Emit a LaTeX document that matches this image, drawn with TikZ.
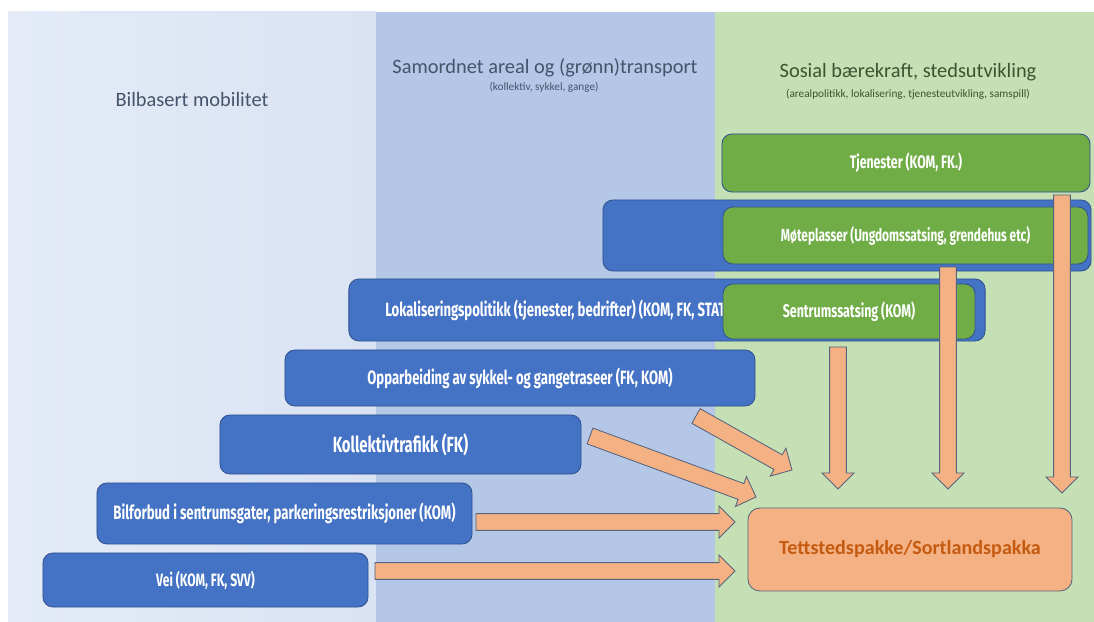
\documentclass[tikz,border=0pt]{standalone}
\usepackage{fontspec}
\setmainfont{Carlito}
\newfontfamily\boxfont[FakeStretch=0.68]{Fira Sans}
\usetikzlibrary{calc}
\definecolor{bandcar}{HTML}{DAE3F3}
\definecolor{bandcarleft}{HTML}{E4EBF7}
\definecolor{bandtransp}{HTML}{B4C7E7}
\definecolor{bandsosial}{HTML}{C5E0B4}
\definecolor{boxblue}{HTML}{4472C4}
\definecolor{boxedge}{HTML}{2F528F}
\definecolor{boxgreen}{HTML}{70AD47}
\definecolor{pakkefill}{HTML}{F4B183}
\definecolor{pakketext}{HTML}{C55A11}
\definecolor{arrowedge}{HTML}{56637D}
\definecolor{headgray}{HTML}{44546A}
\definecolor{headgreen}{HTML}{3B5532}
\tikzset{
    headtxt/.style={text=headgray, font=\fontsize{14.5}{17}\selectfont},
    subtxt/.style={text=headgray, font=\fontsize{8}{9}\selectfont},
    boxtext/.style={text=white, font=\boxfont\bfseries\fontsize{#1}{#1}\selectfont},
    boxtext/.default=13,
    bluebox/.style={draw=boxedge, line width=0.6pt, fill=boxblue,
        rounded corners=0.25cm, inner sep=0pt, outer sep=0pt},
    greenbox/.style={draw=boxedge, line width=0.6pt, fill=boxgreen,
        rounded corners=0.25cm, inner sep=0pt, outer sep=0pt},
    pakkebox/.style={draw=arrowedge, line width=0.6pt, fill=pakkefill,
        rounded corners=0.3cm, inner sep=0pt, outer sep=0pt,
        text=pakketext, font=\bfseries\fontsize{14.3}{16}\selectfont},
    blockarrow/.style={draw=arrowedge, line width=0.6pt, fill=pakkefill, line join=miter}
}
% orange block arrow from tail (#1) to tip (#2)
\newcommand{\blockarrow}[2]{%
    \coordinate (hb) at ($(#2)!0.4cm!(#1)$);
    \draw[blockarrow]
        ($(#1)!0.21cm!90:(#2)$) -- ($(hb)!0.21cm!90:(#2)$)
        -- ($(hb)!0.4cm!90:(#2)$) -- (#2)
        -- ($(hb)!0.4cm!-90:(#2)$) -- ($(hb)!0.21cm!-90:(#2)$)
        -- ($(#1)!0.21cm!-90:(#2)$) -- cycle;
}
\begin{document}
\begin{tikzpicture}[
        x=0.025cm, y=-0.025cm
    ]
    \useasboundingbox (0,0) rectangle (1094,622);
    \fill[white] (0,0) rectangle (1094,622);

    % the three bands
    \fill[left color=bandcarleft, right color=bandcar] (8,12) rectangle (376,622);
    \fill[bandtransp] (376,12) rectangle (715,622);
    \fill[bandsosial] (715,12) rectangle (1094,622);

    \node[headtxt] (bilhead) at (192,100) {Bilbasert mobilitet};
    \node[headtxt] (samhead) at (545,68) {Samordnet areal og (grønn)transport};
    \node[subtxt] (samsub) at (544,87) {(kollektiv, sykkel, gange)};
    \node[headtxt, text=headgreen] (soshead) at (908,72) {Sosial bærekraft, stedsutvikling};
    \node[subtxt, text=headgreen] (sossub) at (908,94)
        {(arealpolitikk, lokalisering, tjenesteutvikling, samspill)};

    % boxes
    \node[greenbox, boxtext=12.9, minimum width=9.2cm, minimum height=1.45cm]
        (tjen) at (906,163) {Tjenester (KOM, FK.)};
    \node[bluebox, minimum width=12.2cm, minimum height=1.775cm]
        (moteouter) at (847,235.5) {};
    \node[greenbox, boxtext=12.4, minimum width=9.125cm, minimum height=1.425cm]
        (mote) at (905.5,235.5) {Møteplasser (Ungdomssatsing, grendehus etc)};
    \node[bluebox, minimum width=15.9cm, minimum height=1.55cm]
        (lok) at (667,310) {};
    \node[boxtext=13.7, anchor=west, inner sep=0pt] (loktxt) at (385,310)
        {Lokaliseringspolitikk (tjenester, bedrifter) (KOM, FK, STAT)};
    \node[greenbox, boxtext, minimum width=6.3cm, minimum height=1.375cm]
        (sentrum) at (849,311.5) {Sentrumssatsing (KOM)};
    \node[bluebox, boxtext=13.7, minimum width=11.75cm, minimum height=1.4cm]
        (opp) at (520,378) {Opparbeiding av sykkel- og gangetraseer (FK, KOM)};
    \node[bluebox, boxtext=15.6, minimum width=9.025cm, minimum height=1.475cm]
        (koll) at (400.5,444.5) {Kollektivtrafikk (FK)};
    \node[bluebox, boxtext=13.8, minimum width=9.375cm, minimum height=1.525cm]
        (bilf) at (284.5,513.5) {Bilforbud i sentrumsgater, parkeringsrestriksjoner (KOM)};
    \node[bluebox, boxtext=12.7, minimum width=8.125cm, minimum height=1.35cm]
        (vei) at (205.5,580) {Vei (KOM, FK, SVV)};
    \node[pakkebox, minimum width=8.1cm, minimum height=2.075cm]
        (pakke) at (910,549.5) {Tettstedspakke/Sortlandspakka};

    % arrow ends
    \coordinate (vei-out) at (375,571);
    \coordinate (pakke-in1) at (735,571);
    \coordinate (bilf-out) at (476,522);
    \coordinate (pakke-in2) at (735,522);
    \coordinate (koll-out) at (590,436);
    \coordinate (pakke-in3) at (756,497);
    \coordinate (opp-out) at (696,416);
    \coordinate (pakke-in4) at (792,470);
    \coordinate (sentrum-out) at (838,347);
    \coordinate (pakke-in5) at (838,489);
    \coordinate (mote-out) at (948,267);
    \coordinate (pakke-in6) at (948,489);
    \coordinate (tjen-out) at (1062,195);
    \coordinate (pakke-in7) at (1062,493);

    \blockarrow{vei-out}{pakke-in1}
    \blockarrow{bilf-out}{pakke-in2}
    \blockarrow{koll-out}{pakke-in3}
    \blockarrow{opp-out}{pakke-in4}
    \blockarrow{sentrum-out}{pakke-in5}
    \blockarrow{mote-out}{pakke-in6}
    \blockarrow{tjen-out}{pakke-in7}
\end{tikzpicture}
\end{document}
